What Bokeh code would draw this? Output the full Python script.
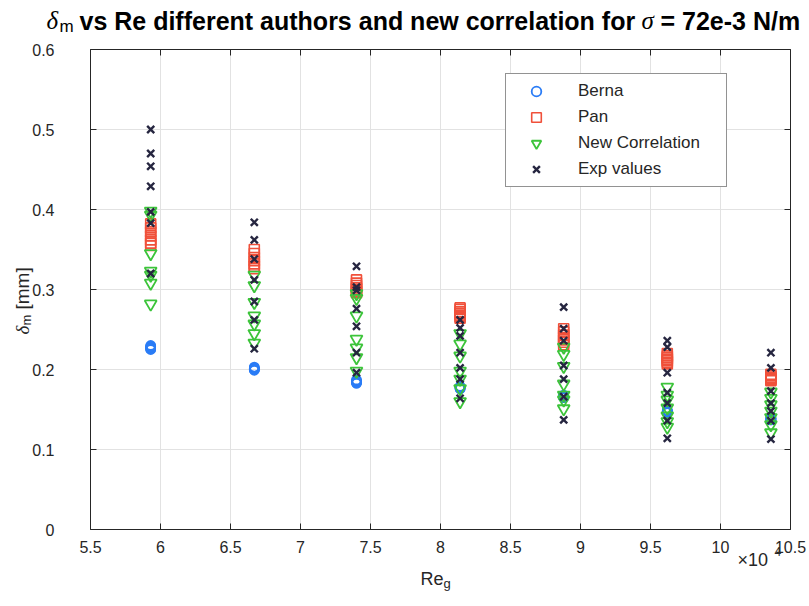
import math
from bokeh.plotting import figure
from bokeh.models import Range1d, FixedTicker, LinearAxis, Label
from bokeh.embed import file_html
from bokeh.resources import INLINE

# Gas Reynolds number of each test point
re_g = [59300, 66700, 74000, 81400, 88800, 96200, 103600]

# film thickness delta_m [mm] at each Re_g
delta_berna = [
    [0.230, 0.229, 0.228, 0.227, 0.226, 0.226, 0.225],
    [0.203, 0.202, 0.201, 0.201, 0.200, 0.200, 0.199],
    [0.187, 0.186, 0.185, 0.184, 0.184, 0.183, 0.183],
    [0.179, 0.178, 0.178, 0.177, 0.177, 0.176, 0.176],
    [0.168, 0.167, 0.167, 0.166, 0.166, 0.165, 0.165],
    [0.149, 0.148, 0.148, 0.147, 0.147, 0.146, 0.146],
    [0.140, 0.139, 0.139, 0.138, 0.138, 0.137, 0.137],
]
delta_pan = [
    [0.382, 0.377, 0.372, 0.367, 0.362, 0.358, 0.355],
    [0.350, 0.345, 0.340, 0.336, 0.332, 0.329, 0.326],
    [0.312, 0.308, 0.305, 0.302, 0.300, 0.298, 0.296],
    [0.277, 0.275, 0.272, 0.270, 0.268, 0.266, 0.264],
    [0.251, 0.247, 0.243, 0.240, 0.237, 0.234, 0.231],
    [0.220, 0.217, 0.215, 0.213, 0.211, 0.209, 0.207],
    [0.194, 0.192, 0.190, 0.189, 0.188, 0.187, 0.186],
]
delta_new = [
    [0.398, 0.393, 0.345, 0.323, 0.318, 0.308, 0.282],
    [0.318, 0.305, 0.284, 0.267, 0.257, 0.245, 0.233],
    [0.295, 0.289, 0.267, 0.238, 0.227, 0.215, 0.198],
    [0.245, 0.232, 0.217, 0.198, 0.188, 0.176, 0.160],
    [0.228, 0.219, 0.204, 0.182, 0.168, 0.162, 0.151],
    [0.178, 0.168, 0.162, 0.152, 0.142, 0.135, 0.128],
    [0.172, 0.164, 0.156, 0.148, 0.140, 0.131, 0.121],
]
delta_exp = [
    [0.500, 0.470, 0.454, 0.429, 0.397, 0.383, 0.320],
    [0.384, 0.362, 0.338, 0.312, 0.285, 0.262, 0.226],
    [0.329, 0.303, 0.299, 0.276, 0.254, 0.221, 0.196],
    [0.262, 0.252, 0.242, 0.221, 0.202, 0.188, 0.164],
    [0.278, 0.251, 0.236, 0.205, 0.188, 0.166, 0.137],
    [0.236, 0.228, 0.196, 0.171, 0.158, 0.136, 0.114],
    [0.221, 0.202, 0.173, 0.158, 0.148, 0.136, 0.113],
]

x_ticks = [55000, 60000, 65000, 70000, 75000, 80000, 85000, 90000, 95000, 100000, 105000]
x_tick_labels = ["5.5", "6", "6.5", "7", "7.5", "8", "8.5", "9", "9.5", "10", "10.5"]
y_ticks = [0, 0.1, 0.2, 0.3, 0.4, 0.5, 0.6]
y_tick_labels = ["0", "0.1", "0.2", "0.3", "0.4", "0.5", "0.6"]

AX = "#262626"
GRID = "#e2e2e2"
FONT = "Liberation Sans"

# canvas size and the axes box on it (pixels)
W, H = 809, 606
BOX_L, BOX_R, BOX_T, BOX_B = 90, 790, 49, 529

x_lo, x_hi = x_ticks[0], x_ticks[-1]
y_lo, y_hi = y_ticks[0], y_ticks[-1]
kx = (x_hi - x_lo) / (BOX_R - BOX_L)
ky = (y_hi - y_lo) / (BOX_B - BOX_T)


def flatten(groups):
    xs, ys = [], []
    for re, vals in zip(re_g, groups):
        xs += [re] * len(vals)
        ys += vals
    return xs, ys


# the plotting frame covers the whole canvas; the axes box is drawn with
# fixed-location axes so that titles and labels can sit around it
p = figure(width=W, height=H,
           x_range=Range1d(x_lo - BOX_L * kx, x_hi + (W - BOX_R) * kx),
           y_range=Range1d(y_lo - (H - BOX_B) * ky, y_hi + BOX_T * ky),
           x_axis_type=None, y_axis_type=None,
           output_backend="svg", toolbar_location=None,
           min_border=0, min_border_left=0, min_border_right=0,
           min_border_top=0, min_border_bottom=0,
           background_fill_color="white", border_fill_color="white")
p.outline_line_color = None

bottom_axis = LinearAxis(fixed_location=y_lo, bounds=(x_lo, x_hi))
top_axis = LinearAxis(fixed_location=y_hi, bounds=(x_lo, x_hi))
left_axis = LinearAxis(fixed_location=x_lo, bounds=(y_lo, y_hi))
right_axis = LinearAxis(fixed_location=x_hi, bounds=(y_lo, y_hi))

for ax in (bottom_axis, top_axis):
    ax.ticker = FixedTicker(ticks=x_ticks)
    ax.major_label_overrides = {t: s for t, s in zip(x_ticks, x_tick_labels)}
for ax in (left_axis, right_axis):
    ax.ticker = FixedTicker(ticks=y_ticks)
    ax.major_label_overrides = {t: s for t, s in zip(y_ticks, y_tick_labels)}

for ax in (bottom_axis, top_axis, left_axis, right_axis):
    ax.axis_line_color = AX
    ax.major_tick_line_color = AX
    ax.major_tick_in = 6
    ax.major_tick_out = 0
    ax.minor_tick_line_color = None
    ax.major_label_text_font = FONT
    ax.major_label_text_font_size = "16px"
    ax.major_label_text_color = AX

bottom_axis.major_label_standoff = 11
left_axis.major_label_standoff = 36
for ax in (top_axis, right_axis):
    ax.major_label_text_alpha = 0
    ax.major_label_text_font_size = "1px"
    ax.major_label_standoff = 0

# grid lines at the inner ticks, inside the axes box
gx = x_ticks[1:-1]
p.segment(x0=gx, y0=[y_lo] * len(gx), x1=gx, y1=[y_hi] * len(gx),
          line_color=GRID, line_width=1, level="underlay")
gy = y_ticks[1:-1]
p.segment(x0=[x_lo] * len(gy), y0=gy, x1=[x_hi] * len(gy), y1=gy,
          line_color=GRID, line_width=1, level="underlay")

p.add_layout(bottom_axis, "below")
p.add_layout(top_axis, "above")
p.add_layout(left_axis, "left")
p.add_layout(right_axis, "right")

xb, yb = flatten(delta_berna)
p.scatter(xb, yb, marker="circle", size=9, fill_color=None,
          line_color="#2a7cf6", line_width=1.8, legend_label="Berna")
xp, yp = flatten(delta_pan)
p.scatter(xp, yp, marker="square", size=10, fill_color=None,
          line_color="#f0503a", line_width=1.6, legend_label="Pan")
xn, yn = flatten(delta_new)
p.scatter(xn, yn, marker="inverted_triangle", size=12, fill_color=None,
          line_color="#3cc43a", line_width=1.8, legend_label="New Correlation")
xe, ye = flatten(delta_exp)
p.scatter(xe, ye, marker="x", size=10, line_color="#262640",
          line_width=2.4, legend_label="Exp values")

lg = p.legend[0]
lg.location = (505, H - 187)
lg.margin = 0
lg.padding = 5
lg.spacing = 2
lg.glyph_width = 50
lg.glyph_height = 24
lg.label_height = 24
lg.label_width = 143
lg.label_standoff = 17
lg.label_text_font = FONT
lg.label_text_font_size = "17px"
lg.label_text_color = AX
lg.border_line_color = AX
lg.border_line_width = 1
lg.background_fill_color = "white"
lg.background_fill_alpha = 1


def txt(px, py, s, size, style="normal", font=FONT, color="black", angle=0):
    # px, py: canvas pixels from the top left
    p.add_layout(Label(x=px, y=H - py, x_units="screen", y_units="screen",
                       text=s, text_font=font,
                       text_font_size=f"{size}px", text_font_style=style,
                       text_color=color, text_baseline="alphabetic",
                       text_align="left", angle=angle))


# title: delta_m vs Re ... for sigma = 72e-3 N/m
txt(46, 20, "δ", 25, "italic", "Liberation Serif")
txt(59, 26, "m", 17, "normal")
txt(79, 20, "vs Re different authors and new correlation for", 25, "bold")
txt(641, 20, "σ", 25, "italic", "Liberation Serif")
txt(660, 20, "= 72e-3 N/m", 25, "bold")

# x label Re_g
txt(420, 578, "Re", 18, color=AX)
txt(443, 583, "g", 13, color=AX)

# y label delta_m [mm]
txt(22, 334, "δ", 19, "italic", "Liberation Serif", AX, math.pi / 2)
txt(26, 325, "m", 13, "normal", FONT, AX, math.pi / 2)
txt(22, 309, "[mm]", 19, "normal", FONT, AX, math.pi / 2)

# axis multiplier x10^4
txt(737, 559, "×10", 18, color=AX)
txt(774, 551, "4", 12, color=AX)

open("out.html", "w").write(file_html(p, INLINE))
